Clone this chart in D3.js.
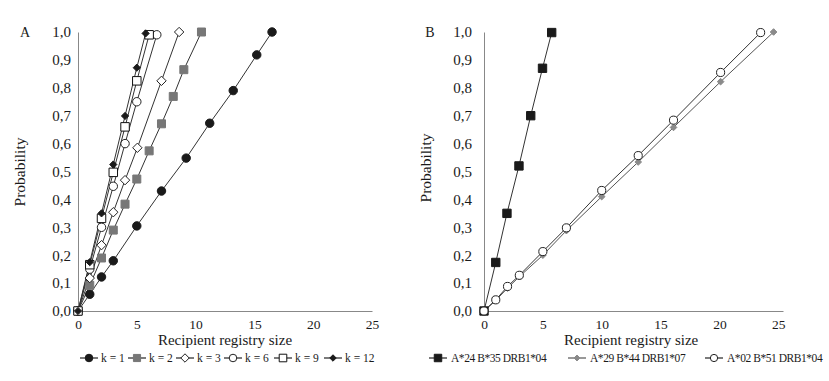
<!DOCTYPE html>
<html><head><meta charset="utf-8">
<script src="https://cdn.jsdelivr.net/npm/d3@7"></script>
<style>
html,body{margin:0;padding:0;background:#fff;}
svg text{font-family:"Liberation Serif","Times New Roman",serif;fill:#1a1a1a;}
</style>
</head><body>
<svg id="chart" width="829" height="381"></svg>
<script>
// ---------- data ----------
const kLabels = ["k = 1","k = 2","k = 3","k = 6","k = 9","k = 12"];
const k1X = [0,1,2,3,5,7.1,9.2,11.2,13.2,15.2,16.5];
const k1Y = [0,0.06,0.122,0.18,0.305,0.43,0.548,0.673,0.79,0.918,1.0];
const k2X = [0,1,2,3,4,5,6.05,7.1,8.1,9,10.5];
const k2Y = [0,0.092,0.19,0.29,0.383,0.473,0.574,0.671,0.769,0.865,1.0];
const k3X = [0,1,2,3,4,5.05,7.1,8.6];
const k3Y = [0,0.118,0.236,0.354,0.469,0.585,0.825,1.0];
const k6X = [0,1,2,3,4,5,6.7];
const k6Y = [0,0.15,0.3,0.447,0.6,0.75,0.99];
const k9X = [0,1,2,3,4,5,6.05];
const k9Y = [0,0.166,0.332,0.497,0.66,0.825,0.99];
const k12X = [0,1,2,3,4,5,5.75];
const k12Y = [0,0.175,0.35,0.525,0.699,0.872,0.995];

const hlaLabels = ["A*24 B*35 DRB1*04","A*29 B*44 DRB1*07","A*02 B*51 DRB1*04"];
const hla1X = [0,1,1.95,2.97,3.97,4.97,5.75];
const hla1Y = [0,0.174,0.35,0.52,0.70,0.87,0.998];
const hla2X = [0,1,2,3,5,7,10,13.1,16.1,20.1,24.6];
const hla2Y = [0,0.038,0.082,0.123,0.2,0.288,0.41,0.534,0.658,0.822,1.0];
const hla3X = [0,1,2,3,5,7,10,13.1,16.1,20.1,23.5];
const hla3Y = [0,0.04,0.088,0.128,0.213,0.298,0.432,0.557,0.684,0.855,0.998];

const xTicks = [0,5,10,15,20,25];
const yTicks = [0,0.1,0.2,0.3,0.4,0.5,0.6,0.7,0.8,0.9,1.0];
const xTitle = "Recipient registry size";
const yTitle = "Probability";

// ---------- helpers ----------
const FONT = '"Liberation Serif","Times New Roman",serif';
const svg = d3.select("#chart");
svg.append("rect").attr("width",829).attr("height",381).attr("fill","#fff");
const locale = d3.formatLocale({decimal:",",thousands:".",grouping:[3],currency:["",""]});
const fmtY = locale.format(".1f");

const diamondSq = { draw(ctx, size){ const r = Math.sqrt(size/2); ctx.moveTo(0,-r); ctx.lineTo(r,0); ctx.lineTo(0,r); ctx.lineTo(-r,0); ctx.closePath(); } };

const styles = {
  circleBlack:{type:d3.symbolCircle,size:56,fill:"#1a1a1a",stroke:"#1a1a1a"},
  squareGray:{type:d3.symbolSquare,size:64,fill:"#777",stroke:"#777"},
  diamondOpen:{type:diamondSq,size:44,fill:"#fff",stroke:"#222"},
  circleOpen:{type:d3.symbolCircle,size:56,fill:"#fff",stroke:"#222"},
  squareOpen:{type:d3.symbolSquare,size:72,fill:"#fff",stroke:"#111"},
  diamondBlack:{type:diamondSq,size:26,fill:"#1a1a1a",stroke:"#1a1a1a"},
  squareBlack:{type:d3.symbolSquare,size:70,fill:"#1a1a1a",stroke:"#1a1a1a"},
  diamondGray:{type:diamondSq,size:22,fill:"#8a8a8a",stroke:"#8a8a8a"},
  circleOpenB:{type:d3.symbolCircle,size:52,fill:"#fff",stroke:"#222"}
};

function panel(opts){
  const g = svg.append("g");
  const x = d3.scaleLinear().domain(opts.xDomain).range(opts.xRange);
  const y = d3.scaleLinear().domain([0,1]).range([311,32]);
  // axes
  const xa = g.append("g").attr("transform","translate(0,311)")
    .call(d3.axisBottom(x).tickValues(xTicks).tickSize(0).tickPadding(8));
  const ya = g.append("g").attr("transform",`translate(${opts.xRange[0]},0)`)
    .call(d3.axisLeft(y).tickValues(yTicks).tickFormat(fmtY).tickSize(0).tickPadding(opts.yPad));
  [xa,ya].forEach(a=>{
    a.attr("font-family",FONT);
    a.select(".domain").attr("stroke","#888").attr("stroke-width",1);
    a.selectAll("text").style("font-family",FONT).attr("fill","#1a1a1a");
  });
  xa.selectAll("text").style("font-size","13.5px");
  ya.selectAll("text").style("font-size","15px");
  // titles
  g.append("text").attr("x",(x(0)+x(25))/2).attr("y",345).attr("text-anchor","middle")
    .style("font-family",FONT).style("font-size","15px").text(xTitle);
  g.append("text").attr("transform",`translate(${opts.yTitleX},${opts.yTitleY}) rotate(-90)`)
    .attr("text-anchor","middle").style("font-family",FONT).style("font-size","15.5px").text(yTitle);
  g.append("text").attr("x",opts.letterX).attr("y",37).attr("text-anchor","middle")
    .style("font-family",FONT).style("font-size","14px").text(opts.letter);
  // series
  const line = d3.line().x(d=>x(d[0])).y(d=>y(d[1]));
  opts.series.forEach(s=>{
    const pts = s.xs.map((v,i)=>[v,s.ys[i]]);
    g.append("path").datum(pts).attr("d",line).attr("fill","none")
      .attr("stroke",s.lineColor||"#333").attr("stroke-width",1);
  });
  opts.series.forEach(s=>{
    const st = styles[s.style];
    const pts = s.xs.map((v,i)=>[v,s.ys[i]]);
    g.append("g").selectAll("path").data(pts).join("path")
      .attr("transform",d=>`translate(${x(d[0])},${y(d[1])})`)
      .attr("d",d3.symbol().type(st.type).size(st.size))
      .attr("fill",st.fill).attr("stroke",st.stroke).attr("stroke-width",1);
  });
  // legend
  opts.series.forEach((s,i)=>{
    const st = styles[s.style];
    const cx = opts.legendX[i];
    const lg = g.append("g").attr("transform",`translate(${cx},358)`);
    lg.append("line").attr("x1",-9).attr("x2",9).attr("stroke",s.lineColor||"#222").attr("stroke-width",1.2);
    lg.append("path").attr("d",d3.symbol().type(st.type).size(st.size*0.8))
      .attr("fill",st.fill).attr("stroke",st.stroke).attr("stroke-width",1);
    lg.append("text").attr("x",opts.legendTextDx).attr("y",4)
      .style("font-family",FONT).style("font-size",opts.legendFont)
      .style("letter-spacing",opts.legendSpacing).text(s.label);
  });
}

panel({
  letter:"A", letterX:25, xDomain:[0,25], xRange:[78,372], yPad:7, yTitleX:25, yTitleY:172,
  legendX:[89,137,185,233,283,333], legendTextDx:12, legendFont:"11.5px", legendSpacing:"0px",
  series:[
    {label:kLabels[0],xs:k1X,ys:k1Y,style:"circleBlack"},
    {label:kLabels[1],xs:k2X,ys:k2Y,style:"squareGray"},
    {label:kLabels[2],xs:k3X,ys:k3Y,style:"diamondOpen"},
    {label:kLabels[3],xs:k6X,ys:k6Y,style:"circleOpen"},
    {label:kLabels[4],xs:k9X,ys:k9Y,style:"squareOpen"},
    {label:kLabels[5],xs:k12X,ys:k12Y,style:"diamondBlack"}
  ]
});

panel({
  letter:"B", letterX:430, xDomain:[0,25.4], xRange:[484,783], yPad:12, yTitleX:431, yTitleY:168,
  legendX:[438,577,714], legendTextDx:13, legendFont:"11.5px", legendSpacing:"-0.45px",
  series:[
    {label:hlaLabels[0],xs:hla1X,ys:hla1Y,style:"squareBlack"},
    {label:hlaLabels[1],xs:hla2X,ys:hla2Y,style:"diamondGray",lineColor:"#555"},
    {label:hlaLabels[2],xs:hla3X,ys:hla3Y,style:"circleOpenB"}
  ]
});
</script>
</body></html>
